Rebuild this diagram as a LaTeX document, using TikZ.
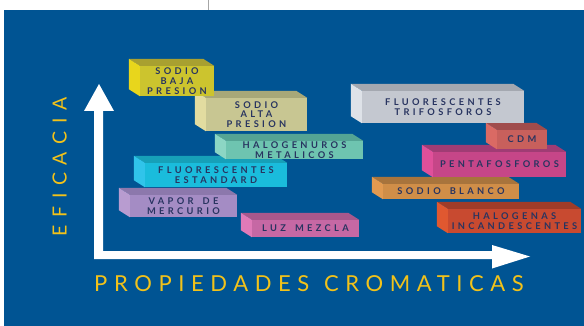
\documentclass[tikz,border=0pt]{standalone}
\usepackage{fontspec}
\setmainfont{Lato}
\newfontfamily\boxfont{Lato}[LetterSpace=36,WordSpace=1.6]
\newfontfamily\axisfont{Lato}[LetterSpace=30,WordSpace=1.2]
\newfontfamily\vaxisfont{Lato}[LetterSpace=39]
\definecolor{bg}{RGB}{0,84,147}
\definecolor{boxtext}{RGB}{40,52,96}
\definecolor{axisyellow}{RGB}{242,194,26}
% SODIO BAJA PRESION
\definecolor{sbpfront}{RGB}{204,196,46}\definecolor{sbpside}{RGB}{232,214,28}\definecolor{sbptop}{RGB}{168,160,48}
% SODIO ALTA PRESION
\definecolor{sapfront}{RGB}{200,198,146}\definecolor{sapside}{RGB}{226,220,160}\definecolor{saptop}{RGB}{168,168,120}
% HALOGENUROS
\definecolor{hmfront}{RGB}{110,196,176}\definecolor{hmside}{RGB}{140,214,196}\definecolor{hmtop}{RGB}{84,164,148}
% FLUORESCENTES ESTANDARD
\definecolor{fefront}{RGB}{26,188,220}\definecolor{feside}{RGB}{48,196,234}\definecolor{fetop}{RGB}{22,160,184}
% VAPOR DE MERCURIO
\definecolor{vmfront}{RGB}{164,140,196}\definecolor{vmside}{RGB}{184,156,208}\definecolor{vmtop}{RGB}{140,120,172}
% LUZ MEZCLA
\definecolor{lmfront}{RGB}{198,104,164}\definecolor{lmside}{RGB}{224,122,184}\definecolor{lmtop}{RGB}{168,88,140}
% FLUORESCENTES TRIFOSFOROS
\definecolor{ftfront}{RGB}{196,200,208}\definecolor{ftside}{RGB}{222,226,232}\definecolor{fttop}{RGB}{164,168,176}
% CDM
\definecolor{cdmfront}{RGB}{200,96,92}\definecolor{cdmside}{RGB}{218,106,100}\definecolor{cdmtop}{RGB}{160,76,76}
% PENTAFOSFOROS
\definecolor{pffront}{RGB}{198,70,136}\definecolor{pfside}{RGB}{224,80,154}\definecolor{pftop}{RGB}{160,60,116}
% SODIO BLANCO
\definecolor{sbfront}{RGB}{208,142,72}\definecolor{sbside}{RGB}{226,154,80}\definecolor{sbtop}{RGB}{168,116,60}
% HALOGENAS INCANDESCENTES
\definecolor{hifront}{RGB}{200,74,48}\definecolor{hiside}{RGB}{224,88,48}\definecolor{hitop}{RGB}{160,60,40}

\tikzset{
  lamp/.style={inner sep=0pt, align=center, text=boxtext,
    font=\boxfont\bfseries\fontsize{9.3}{9.8}\selectfont},
  axislabel/.style={inner sep=0pt, text=axisyellow},
}
% #1 name, #2 center, #3 width, #4 height, #5 colour prefix, #6 text
\newcommand\lampbox[6]{%
  \node[lamp, fill=#5front, minimum width=#3, minimum height=#4] (#1) at #2 {#6};
  \fill[#5top] (#1.north west) -- ++(-11,-7) -- ([shift={(-11,-7)}]#1.north east) -- (#1.north east) -- cycle;
  \fill[#5side] (#1.north west) -- ++(-11,-7) -- ([shift={(-11,-7)}]#1.south west) -- (#1.south west) -- cycle;
}

\begin{document}
\begin{tikzpicture}[x=1pt,y=-1pt]
\useasboundingbox (0,0) rectangle (584,326);
\fill[white] (0,0) rectangle (584,326);
\fill[bg] (4,10) rectangle (584,326);
\draw[gray!70, line width=0.8pt] (208,0) -- (208,10);

% axes
\coordinate (yaxtip) at (99,84);
\coordinate (xaxtip) at (530,256.5);
\fill[white] (94,259) -- (94,111) -- (84,111) -- (yaxtip) -- (114,111) -- (103,111)
  -- (103,251) -- (492,251) -- (492,245) -- (xaxtip) -- (492,268.5) -- (492,259) -- cycle;

% boxes, from lowest to highest
\lampbox{lm}{(305.5,228.5)}{107}{17}{lm}{LUZ MEZCLA}
\lampbox{hi}{(514.5,221)}{133}{24}{hi}{HALOGENAS\\INCANDESCENTES}
\lampbox{vm}{(183.5,206)}{107}{22}{vm}{VAPOR DE\\MERCURIO}
\lampbox{sb}{(451,191.5)}{136}{15}{sb}{SODIO BLANCO}
\lampbox{fe}{(216,175)}{142}{24}{fe}{FLUORESCENTES\\ESTANDARD}
\lampbox{pf}{(499.5,164.5)}{133}{25}{pf}{PENTAFOSFOROS}
\lampbox{hm}{(294.5,150)}{137}{18}{hm}{HALOGENUROS\\METALICOS}
\lampbox{cdm}{(522,139.5)}{50}{19}{cdm}{CDM}
\lampbox{sap}{(256.5,114.5)}{101}{33}{sap}{SODIO\\ALTA\\PRESION}
\lampbox{ft}{(443,107)}{162}{32}{ft}{FLUORESCENTES\\TRIFOSFOROS}
\lampbox{sbp}{(177,81)}{74}{30}{sbp}{SODIO\\BAJA\\PRESION}

% axis labels
\node[axislabel, anchor=base, font=\axisfont\fontsize{22}{24}\selectfont] (xlabel) at (309,291.5) {PROPIEDADES CROMATICAS};
\node[axislabel, anchor=base, rotate=90, font=\vaxisfont\fontsize{19.5}{21}\selectfont] (ylabel) at (66.7,167) {EFICACIA};
\end{tikzpicture}
\end{document}
